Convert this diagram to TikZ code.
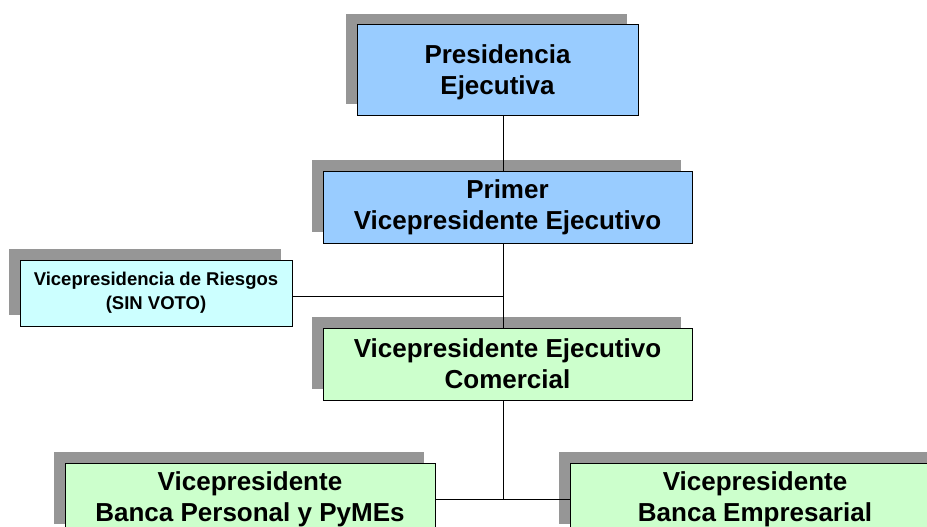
\documentclass[tikz,border=0pt]{standalone}
\usepackage{fontspec}
\setmainfont{Liberation Sans}
\usetikzlibrary{shadows}
\definecolor{boxblue}{HTML}{99CCFF}
\definecolor{boxcyan}{HTML}{CCFFFF}
\definecolor{boxgreen}{HTML}{CCFFCC}
\definecolor{shadowgray}{HTML}{969696}
\tikzset{
  orgbox/.style={draw=black, line width=1pt, align=center, inner sep=0pt,
    drop shadow={shadow xshift=-11pt, shadow yshift=11pt, fill=shadowgray, opacity=1},
    font=\fontsize{26}{31}\selectfont\bfseries},
  smallbox/.style={orgbox, font=\fontsize{18.5}{24}\selectfont\bfseries},
  link/.style={draw=black, line width=1pt}
}
\begin{document}
\begin{tikzpicture}[x=1pt,y=-1pt]
\clip (0,0) rectangle (927,527);
\fill[white] (0,0) rectangle (927,527);
\node[orgbox, fill=boxblue, minimum width=281pt, minimum height=90pt, text depth=0pt] (pres) at (497.5,70) {Presidencia\\Ejecutiva};
\node[orgbox, fill=boxblue, minimum width=369pt, minimum height=72pt] (primer) at (507.5,207) {Primer\\Vicepresidente Ejecutivo};
\node[smallbox, fill=boxcyan, minimum width=272pt, minimum height=66pt] (riesgos) at (156,293) {Vicepresidencia de Riesgos\\(SIN VOTO)};
\node[orgbox, fill=boxgreen, minimum width=369pt, minimum height=72pt] (comercial) at (507.5,364) {Vicepresidente Ejecutivo\\Comercial};
\node[orgbox, fill=boxgreen, minimum width=370pt, minimum height=72pt] (bpers) at (250,499) {Vicepresidente\\Banca Personal y PyMEs};
\node[orgbox, fill=boxgreen, minimum width=370pt, minimum height=72pt] (bemp) at (755,499) {Vicepresidente\\Banca Empresarial};
\coordinate (t) at (503,0);
\coordinate (rj) at ([yshift=-3pt]riesgos.east);
\draw[link] (t |- pres.south) -- (t |- primer.north);
\draw[link] (t |- primer.south) -- (t |- comercial.north);
\draw[link] (rj) -- (rj -| t);
\draw[link] (t |- comercial.south) -- (t |- bpers.east);
\draw[link] (bpers.east) -- (bemp.west);
\end{tikzpicture}
\end{document}
